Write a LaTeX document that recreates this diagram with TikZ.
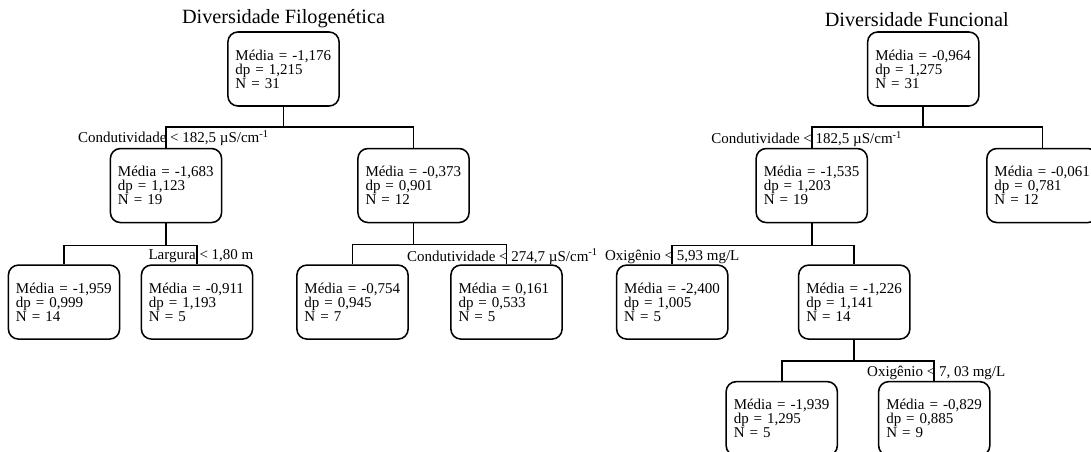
\documentclass[tikz,border=0pt]{standalone}
\usepackage{fontspec}
\setmainfont{Liberation Serif}
\usetikzlibrary{positioning}

\begin{document}
\begin{tikzpicture}[node distance=1.025cm,line width=1.1pt,
  stat/.style={rectangle, draw, rounded corners=0.25cm, minimum height=1.85cm, text width=2.4cm, inner xsep=0.19cm, align=left, font=\fontsize{10.67pt}{10pt}\selectfont},
  cond/.style={inner sep=0pt, font=\fontsize{10.67pt}{12pt}\selectfont},
  heading/.style={inner sep=0pt, font=\fontsize{14.4pt}{17pt}\selectfont}]
\useasboundingbox (-7.0875,1.725) rectangle (20.1875,-9.575);

% Diversidade Filogenetica
\node (rootA) [stat] {Média = -1,176 \\ dp = 1,215 \\ N = 31};
\node (titleA) [heading, above=0.07cm of rootA] {Diversidade Filogenética};
\node (aL) [stat, below=of rootA, xshift=-2.9375cm] {Média = -1,683 \\ dp = 1,123 \\ N = 19};
\node (aR) [stat, below=of rootA, xshift=3.25cm] {Média = -0,373 \\ dp = 0,901 \\ N = 12};
\node (aLL) [stat, below=of aL, xshift=-2.55cm] {Média = -1,959 \\ dp = 0,999 \\ N = 14};
\node (aLR) [stat, below=of aL, xshift=0.775cm] {Média = -0,911 \\ dp = 1,193 \\ N = 5};
\node (aRL) [stat, below=of aR, xshift=-1.525cm] {Média = -0,754 \\ dp = 0,945 \\ N = 7};
\node (aRR) [stat, below=of aR, xshift=2.325cm] {Média = 0,161 \\ dp = 0,533 \\ N = 5};

\draw (rootA.south) -- ++(0,-0.5) coordinate (sA);
\draw (aL.north) |- (sA) -| (aR.north);
\draw (aL.south) -- ++(0,-0.55) coordinate (sAL);
\draw (aLL.north) |- (sAL) -| (aLR.north);
\draw (aR.south) -- ++(0,-0.525) coordinate (sAR);
\draw (aRL.north) |- (sAR) -| (aRR.north);

\node (cA) [cond, above=0.125cm of aL.north, anchor=base, xshift=0.1875cm] {Condutividade < 182,5 µS/cm\textsuperscript{-1}};
\node (cAL) [cond, above=0.12cm of aLR.north, anchor=base, xshift=0.1cm] {Largura < 1,80 m};
\node (cAR) [cond, above=0.075cm of aRR.north, anchor=base, xshift=-0.1cm] {Condutividade < 274,7 µS/cm\textsuperscript{-1}};

% Diversidade Funcional
\node (rootB) [stat, right=13.175cm of rootA] {Média = -0,964 \\ dp = 1,275 \\ N = 31};
\node (titleB) [heading, above=0.1cm of rootB, xshift=-0.1625cm] {Diversidade Funcional};
\node (bL) [stat, below=of rootB, xshift=-2.7875cm] {Média = -1,535 \\ dp = 1,203 \\ N = 19};
\node (bR) [stat, below=of rootB, xshift=2.98cm] {Média = -0,061 \\ dp = 0,781 \\ N = 12};
\node (bLL) [stat, below=of bL, xshift=-3.4875cm] {Média = -2,400 \\ dp = 1,005 \\ N = 5};
\node (bLR) [stat, below=of bL, xshift=1.0625cm] {Média = -1,226 \\ dp = 1,141 \\ N = 14};
\node (bLRL) [stat, below=of bLR, xshift=-1.8125cm] {Média = -1,939 \\ dp = 1,295 \\ N = 5};
\node (bLRR) [stat, below=of bLR, xshift=2cm] {Média = -0,829 \\ dp = 0,885 \\ N = 9};

\draw (rootB.south) -- ++(0,-0.5) coordinate (sB);
\draw (bL.north) |- (sB) -| (bR.north);
\draw (bL.south) -- ++(0,-0.55) coordinate (sBL);
\draw (bLL.north) |- (sBL) -| (bLR.north);
\draw (bLR.south) -- ++(0,-0.525) coordinate (sBLR);
\draw (bLRL.north) |- (sBLR) -| (bLRR.north);

\node (cB) [cond, above=0.1cm of bL.north, anchor=base, xshift=-0.125cm] {Condutividade < 182,5 µS/cm\textsuperscript{-1}};
\node (cBL) [cond, above=0.1cm of bLL.north, anchor=base] {Oxigênio < 5,93 mg/L};
\node (cBLR) [cond, above=0.12cm of bLRR.north, anchor=base, xshift=0.05cm] {Oxigênio < 7, 03 mg/L};
\end{tikzpicture}
\end{document}
